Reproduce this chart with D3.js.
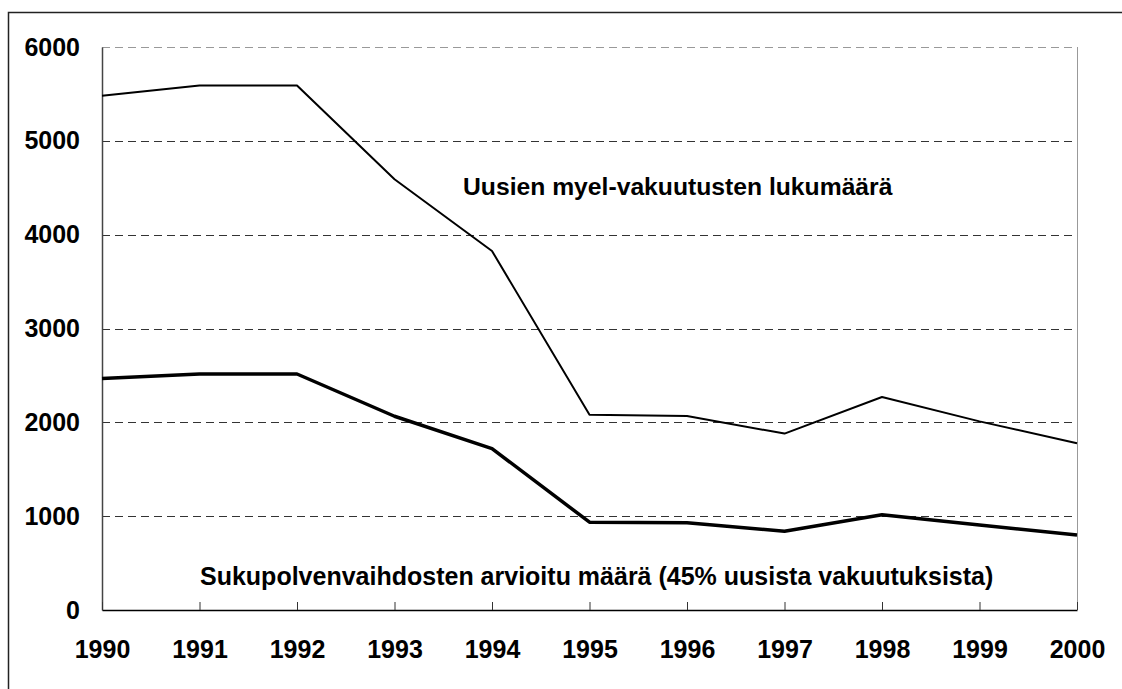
<!DOCTYPE html>
<html>
<head>
<meta charset="utf-8">
<script src="https://cdn.jsdelivr.net/npm/d3@7"></script>
<style>
  body { margin: 0; background: #fff; }
  svg { display: block; font-family: "Liberation Sans", Arial, sans-serif; font-weight: bold; }
</style>
</head>
<body>
<div id="chart"></div>
<script>
// data
const years = [1990, 1991, 1992, 1993, 1994, 1995, 1996, 1997, 1998, 1999, 2000];
const newPolicies = [5480, 5590, 5590, 4590, 3826, 2080, 2067, 1880, 2270, 2010, 1777];
const successions = [2466, 2515, 2515, 2065, 1720, 936, 930, 840, 1016, 906, 800];
const yTicks = [0, 1000, 2000, 3000, 4000, 5000, 6000];
const labelTop = "Uusien myel-vakuutusten lukumäärä";
const labelBottom = "Sukupolvenvaihdosten arvioitu määrä (45% uusista vakuutuksista)";

const W = 1122, H = 689;
let margin = { top: 47, right: 45, bottom: 79, left: 102 },
    width = W - margin.left - margin.right,
    height = H - margin.top - margin.bottom;

let svg = d3.select("#chart").append("svg")
    .attr("width", W)
    .attr("height", H);

// outer frame (runs off the right/bottom edge as in the original)
svg.append("rect")
    .attr("x", 8.5).attr("y", 12.5)
    .attr("width", W).attr("height", H)
    .attr("fill", "none")
    .attr("stroke", "#222")
    .attr("stroke-width", 1.5);

let g = svg.append("g")
    .attr("transform", `translate(${margin.left},${margin.top})`);

let x = d3.scaleLinear()
    .domain(d3.extent(years))
    .range([0, width]);
let y = d3.scaleLinear()
    .domain([0, 6000])
    .range([height, 0]);

// dashed grid lines
g.append("g")
    .selectAll("line")
    .data(yTicks.filter(d => d > 0))
    .join("line")
    .attr("x1", 0).attr("x2", width)
    .attr("y1", d => Math.round(y(d)) + 0.5).attr("y2", d => Math.round(y(d)) + 0.5)
    .attr("stroke", d => d === 6000 ? "#999" : "#333")
    .attr("stroke-width", 1)
    .attr("stroke-dasharray", "8,5");

// right border of plot area
g.append("line")
    .attr("x1", width + 0.5).attr("x2", width + 0.5)
    .attr("y1", 0).attr("y2", height)
    .attr("stroke", "#999");

const tickFont = g => g
    .attr("font-size", 25)
    .attr("font-weight", "bold")
    .attr("fill", "#000")
    .attr("font-family", "Liberation Sans, Arial, sans-serif");

// y axis
let yAxis = d3.axisLeft(y).tickValues(yTicks).tickFormat(d3.format("d"))
    .tickSize(0).tickPadding(22);
g.append("g")
    .attr("class", "y-axis")
    .call(yAxis)
    .call(g => g.select(".domain").attr("stroke", "#444").attr("stroke-width", 1.5))
    .call(g => g.selectAll(".tick text").call(tickFont));

// x axis, ticks pointing inward
let xAxis = d3.axisBottom(x).tickValues(years).tickFormat(d3.format("d"))
    .tickSize(-8).tickSizeOuter(0).tickPadding(0);
g.append("g")
    .attr("class", "x-axis")
    .attr("transform", `translate(0,${height})`)
    .call(xAxis)
    .call(g => g.select(".domain").attr("stroke", "#000").attr("stroke-width", 1.5))
    .call(g => g.selectAll(".tick line").attr("stroke", "#333"))
    .call(g => g.selectAll(".tick text")
        .attr("y", 48)
        .attr("dy", 0)
        .call(tickFont));

// lines
let line = d3.line()
    .x((d, i) => x(years[i]))
    .y(d => y(d));

g.append("path")
    .datum(newPolicies)
    .attr("fill", "none")
    .attr("stroke", "#000")
    .attr("stroke-width", 2)
    .attr("stroke-linejoin", "round")
    .attr("d", line);

g.append("path")
    .datum(successions)
    .attr("fill", "none")
    .attr("stroke", "#000")
    .attr("stroke-width", 3.5)
    .attr("stroke-linejoin", "round")
    .attr("d", line);

// labels
g.append("text")
    .attr("x", 463 - margin.left)
    .attr("y", 195 - margin.top)
    .attr("font-size", 24.7)
    .text(labelTop);

g.append("text")
    .attr("x", 200 - margin.left)
    .attr("y", 585 - margin.top)
    .attr("font-size", 25)
    .text(labelBottom);
</script>
</body>
</html>
